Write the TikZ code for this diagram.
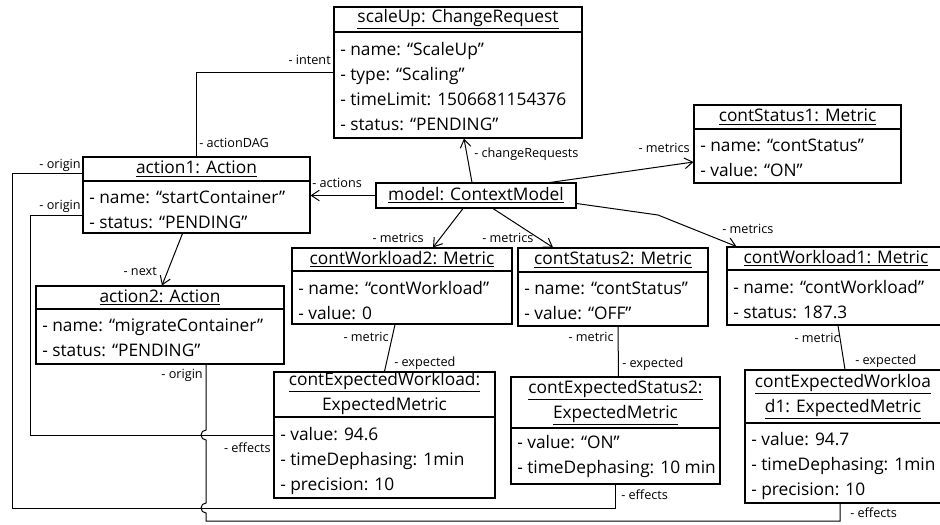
\documentclass[tikz,border=0pt]{standalone}
\usepackage{fontspec}
\setmainfont{Open Sans}
\usepackage{tikz}
\usetikzlibrary{arrows.meta,calc,fit}

\newcommand{\objfont}{\fontsize{13}{18.75}\selectfont}
\newcommand{\lblfont}{\fontsize{9.5}{11}\selectfont}

\begin{document}
\begin{tikzpicture}[x=0.75pt,y=-0.75pt,
  obj/.style={draw, line width=0.8pt, inner sep=0pt},
  sep/.style={line width=0.8pt},
  otitle/.style={font=\objfont, inner sep=0pt, align=center},
  oattr/.style={font=\objfont, inner sep=0pt, align=left, anchor=north west},
  lbl/.style={font=\lblfont, inner sep=0pt},
  link/.style={line width=0.75pt},
  nav/.style={link, -{Straight Barb[length=6pt,width=8pt]}}]
\useasboundingbox (0,0) rectangle (940,525);

%Object: scaleUp
\node[obj, fit={(334,7) (582,138)}] (su) {};
\draw[sep] (su.west |- 0,32) -- (su.east |- 0,32);
\node[otitle] (suT) at (su.north |- 0,19.5) {\underline{scaleUp: ChangeRequest}};
\node[oattr] (suA) at (340,42) {- name: “ScaleUp”\\- type: “Scaling”\\- timeLimit: 1506681154376\\- status: “PENDING”};

%Object: action1
\node[obj, fit={(83,157) (310,233)}] (a1) {};
\draw[sep] (a1.west |- 0,181) -- (a1.east |- 0,181);
\node[otitle] (a1T) at (a1.north |- 0,169) {\underline{action1: Action}};
\node[oattr] (a1A) at (89,191) {- name: “startContainer”\\- status: “PENDING”};

%Object: action2
\node[obj, fit={(36,286) (284,364)}] (a2) {};
\draw[sep] (a2.west |- 0,309) -- (a2.east |- 0,309);
\node[otitle] (a2T) at (a2.north |- 0,297.5) {\underline{action2: Action}};
\node[oattr] (a2A) at (42,319) {- name: “migrateContainer”\\- status: “PENDING”};

%Object: model
\node[obj, fit={(376,183) (576,208)}] (m) {};
\node[otitle] (mT) at (m.center) {\underline{model: ContextModel}};

%Object: contStatus1
\node[obj, fit={(694,105) (901,183)}] (cs1) {};
\draw[sep] (cs1.west |- 0,129) -- (cs1.east |- 0,129);
\node[otitle] (cs1T) at (cs1.north |- 0,117) {\underline{contStatus1: Metric}};
\node[oattr] (cs1A) at (700,139) {- name: “contStatus”\\- value: “ON”};

%Object: contWorkload2
\node[obj, fit={(292,248) (512,324)}] (cw2) {};
\draw[sep] (cw2.west |- 0,271) -- (cw2.east |- 0,271);
\node[otitle] (cw2T) at (cw2.north |- 0,259.5) {\underline{contWorkload2: Metric}};
\node[oattr] (cw2A) at (298,281) {- name: “contWorkload”\\- value: 0};

%Object: contStatus2
\node[obj, fit={(518,248) (708,326)}] (cst2) {};
\draw[sep] (cst2.west |- 0,272) -- (cst2.east |- 0,272);
\node[otitle] (cst2T) at (cst2.north |- 0,260) {\underline{contStatus2: Metric}};
\node[oattr] (cst2A) at (524,282) {- name: “contStatus”\\- value: “OFF”};

%Object: contWorkload1
\node[obj, fit={(727,247) (945,325)}] (cw1) {};
\draw[sep] (cw1.west |- 0,270) -- (cw1.east |- 0,270);
\node[otitle] (cw1T) at (cw1.north |- 0,258.5) {\underline{contWorkload1: Metric}};
\node[oattr] (cw1A) at (733,280) {- name: “contWorkload”\\- status: 187.3};

%Object: contExpectedWorkload
\node[obj, fit={(274,372) (495,498)}] (cew) {};
\draw[sep] (cew.west |- 0,417) -- (cew.east |- 0,417);
\node[otitle] (cewT) at (cew.north |- 0,394.5) {\underline{contExpectedWorkload:}\\\underline{ExpectedMetric}};
\node[oattr] (cewA) at (280,427) {- value: 94.6\\- timeDephasing: 1min\\- precision: 10};

%Object: contExpectedStatus2
\node[obj, fit={(511,377) (720,484)}] (ces2) {};
\draw[sep] (ces2.west |- 0,428) -- (ces2.east |- 0,428);
\node[otitle] (ces2T) at (ces2.north |- 0,402.5) {\underline{contExpectedStatus2:}\\\underline{ExpectedMetric}};
\node[oattr] (ces2A) at (517,435) {- value: “ON”\\- timeDephasing: 10 min};

%Object: contExpectedWorkload1
\node[obj, fit={(745,370) (941,503)}] (ces1) {};
\draw[sep] (ces1.west |- 0,423) -- (ces1.east |- 0,423);
\node[otitle] (ces1T) at (ces1.north |- 0,397) {\underline{contExpectedWorkloa}\\\underline{d1: ExpectedMetric}};
\node[oattr] (ces1A) at (751,432) {- value: 94.7\\- timeDephasing: 1min\\- precision: 10};

%Links
\draw[link] (su.west) -| (a1.north);
\draw[nav] (m.west) -- (m.west -| a1.east);
\draw[nav] ($(m.north)+(-4,0)$) -- ($(su.south)+(6,0)$);
\draw[nav] ($(a1.south)+(-14,0)$) -- ($(a2.north)+(2,0)$);
\draw[nav] ($(m.north)+(74,0)$) -- ($(cs1.west)+(0,18)$);
\draw[nav] ($(m.south)+(-13,0)$) -- ($(cw2.north)+(31,0)$);
\draw[nav] ($(m.south)+(17,0)$) -- ($(cst2.north)+(-60,0)$);
\coordinate (b1) at (658,215);
\draw[nav] ($(m.east)+(0,8)$) -- (b1) -- ($(cw1.north west)+(10,0)$);
\draw[link] ($(cw2.south)+(-7,0)$) -- (cew.north);
\draw[link] ($(cst2.south)+(5,0)$) -- ($(ces2.north)+(3,0)$);
\draw[link] ($(cw1.south)+(2,0)$) -- ($(ces1.north)+(2,0)$);

%Origin / effects
\coordinate (o1) at (12,508);
\coordinate (o2) at (30,435);
\coordinate (o3) at (206,521);
\draw[link] ($(a1.north west)+(0,17)$) -| (o1) -| (ces2.south);
\draw[link] ($(a1.north west)+(0,59)$) -| (o2) -- (cew.west);
\coordinate (h) at ($(a2.south)+(46,0)$);
\draw[link] (h) -- ($(h |- o2)+(0,-5)$) arc[start angle=270,end angle=90,radius=5]
  -- ($(h |- o1)+(0,-5)$) arc[start angle=270,end angle=90,radius=5]
  -- (o3) -| ($(ces1.south)+(-3,0)$);

%Labels
\node[lbl, anchor=east] (lIntent) at (331,60) {- intent};
\node[lbl, anchor=west] (lDag) at (199,143) {- actionDAG};
\node[lbl, anchor=east] (lOrig1) at (81,165) {- origin};
\node[lbl, anchor=east] (lOrig2) at (81,206) {- origin};
\node[lbl, anchor=east] (lNext) at (157,271) {- next};
\node[lbl, anchor=west] (lActs) at (312,183) {- actions};
\node[lbl, anchor=west] (lReq) at (474,154) {- changeRequests};
\node[lbl, anchor=east] (lMet1) at (690,148) {- metrics};
\node[lbl, anchor=east] (lMet2) at (424,238) {- metrics};
\node[lbl, anchor=west] (lMet3) at (482,238) {- metrics};
\node[lbl, anchor=west] (lMet4) at (722,229) {- metrics};
\node[lbl, anchor=east] (lM1) at (389,337) {- metric};
\node[lbl, anchor=west] (lE1) at (394,363) {- expected};
\node[lbl, anchor=east] (lM2) at (614,337) {- metric};
\node[lbl, anchor=west] (lE2) at (622,364) {- expected};
\node[lbl, anchor=east] (lM3) at (840,338) {- metric};
\node[lbl, anchor=west] (lE3) at (855,361) {- expected};
\node[lbl, anchor=east] (lOrig3) at (203,375) {- origin};
\node[lbl, anchor=east] (lEff1) at (271,448) {- effects};
\node[lbl, anchor=west] (lEff2) at (621,495) {- effects};
\node[lbl, anchor=west] (lEff3) at (850,513) {- effects};
\end{tikzpicture}
\end{document}
